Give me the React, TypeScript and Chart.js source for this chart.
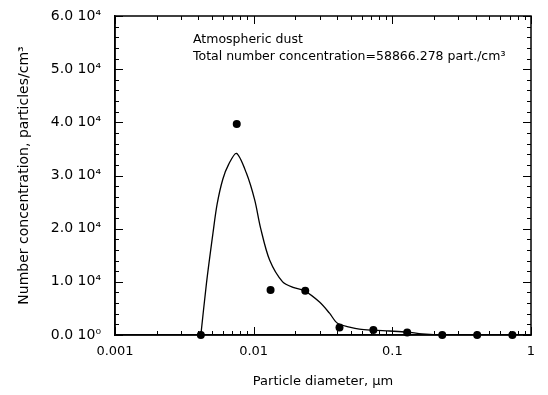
import React, { useEffect, useRef } from 'react';
import { Chart, registerables } from 'chart.js';

Chart.register(...registerables);

// Measured points (particle diameter, µm / number concentration, particles/cm³)
const pointDiameters = [0.00416, 0.00755, 0.01324, 0.02355, 0.0416, 0.073, 0.128, 0.229, 0.409, 0.734];
const pointConcentrations = [0, 39700, 8460, 8300, 1400, 940, 450, 0, 0, 0];

// Fitted distribution curve
const curveDiameters = [0.00416, 0.00457, 0.00509, 0.00545, 0.00599, 0.0066, 0.00752, 0.00886, 0.01017, 0.01122, 0.01303, 0.01618, 0.0195, 0.02328, 0.02985, 0.03524, 0.04022, 0.0491, 0.0579, 0.073, 0.0951, 0.128, 0.164, 0.237, 0.734];
const curveConcentrations = [0, 9800, 19200, 24600, 29300, 32100, 34150, 30450, 25400, 20100, 14100, 10000, 8900, 8300, 6200, 4100, 2200, 1500, 1100, 900, 750, 550, 200, 0, 0];

const xTickValues = [0.001, 0.01, 0.1, 1];
const xTickLabels = ['0.001', '0.01', '0.1', '1'];
const yTickValues = [0, 10000, 20000, 30000, 40000, 50000, 60000];
const yTickLabels = ['0.0 10⁰', '1.0 10⁴', '2.0 10⁴', '3.0 10⁴', '4.0 10⁴', '5.0 10⁴', '6.0 10⁴'];

const annotationLines = ['Atmospheric dust', 'Total number concentration=58866.278 part./cm³'];
const xTitle = 'Particle diameter, µm';
const yTitle = 'Number concentration, particles/cm³';

const FONT = "'DejaVu Sans', sans-serif";

const framePlugin = {
  id: 'frameTicks',
  afterDatasetsDraw(chart: any) {
    const { ctx, chartArea: a, scales } = chart;
    const xs = scales.x;
    const ys = scales.y;
    ctx.save();
    ctx.strokeStyle = '#000';
    ctx.lineWidth = 1;
    const xv: { v: number; major: boolean }[] = [];
    for (let d = -3; d <= -1; d++) {
      for (let m = 1; m <= 9; m++) xv.push({ v: m * Math.pow(10, d), major: m === 1 });
    }
    xv.push({ v: 1, major: true });
    ctx.beginPath();
    for (const t of xv) {
      const px = Math.round(xs.getPixelForValue(t.v)) + 0.5;
      const len = t.major ? 8 : 4;
      ctx.moveTo(px, a.bottom);
      ctx.lineTo(px, a.bottom - len);
      ctx.moveTo(px, a.top);
      ctx.lineTo(px, a.top + len);
    }
    for (let v = 0; v <= 60000; v += 2000) {
      const py = Math.round(ys.getPixelForValue(v)) + 0.5;
      const len = v % 10000 === 0 ? 8 : 4;
      ctx.moveTo(a.left, py);
      ctx.lineTo(a.left + len, py);
      ctx.moveTo(a.right, py);
      ctx.lineTo(a.right - len, py);
    }
    ctx.stroke();
    ctx.lineWidth = 1.5;
    ctx.strokeRect(a.left, a.top, a.right - a.left, a.bottom - a.top);
    ctx.fillStyle = '#000';
    ctx.font = `12.5px ${FONT}`;
    ctx.textBaseline = 'alphabetic';
    ctx.textAlign = 'left';
    ctx.fillText(annotationLines[0], a.left + 78, a.top + 27);
    ctx.fillText(annotationLines[1], a.left + 78, a.top + 44);
    ctx.restore();
  },
};

export default function App() {
  const ref = useRef<HTMLCanvasElement | null>(null);
  useEffect(() => {
    if (!ref.current) return;
    Chart.defaults.font.family = FONT;
    Chart.defaults.color = '#000';
    const chart = new Chart(ref.current, {
      type: 'scatter',
      data: {
        datasets: [
          {
            label: 'fit',
            data: curveDiameters.map((x, i) => ({ x, y: curveConcentrations[i] })),
            showLine: true,
            borderColor: '#000',
            borderWidth: 1.3,
            pointRadius: 0,
            tension: 0.3,
            fill: false,
          } as any,
          {
            label: 'measured',
            data: pointDiameters.map((x, i) => ({ x, y: pointConcentrations[i] })),
            showLine: false,
            backgroundColor: '#000',
            borderColor: '#000',
            pointRadius: 4,
            pointBorderWidth: 0,
            clip: false,
          } as any,
        ],
      },
      plugins: [framePlugin],
      options: {
        responsive: false,
        animation: false,
        events: [],
        layout: { padding: { left: 0, top: 16, right: 17, bottom: 0 } },
        plugins: { legend: { display: false }, tooltip: { enabled: false } },
        scales: {
          x: {
            type: 'logarithmic',
            min: 0.001,
            max: 1,
            afterFit: (s: any) => { s.height = 60; s.paddingLeft = 0; s.paddingRight = 0; },
            afterBuildTicks: (s: any) => { s.ticks = xTickValues.map((v) => ({ value: v })); },
            grid: { display: false, drawTicks: false },
            border: { display: true, color: '#000', width: 1.5 },
            ticks: {
              autoSkip: false,
              maxRotation: 0,
              padding: 9,
              font: { size: 13 },
              color: '#000',
              callback: (v: any) => {
                const i = xTickValues.findIndex((t) => Math.abs(t - v) / t < 1e-6);
                return i >= 0 ? xTickLabels[i] : '';
              },
            },
            title: { display: true, text: xTitle, font: { size: 13 }, color: '#000', padding: { top: 0, bottom: 6 } },
          },
          y: {
            type: 'linear',
            min: 0,
            max: 60000,
            afterFit: (s: any) => { s.width = 115; s.paddingTop = 0; s.paddingBottom = 0; },
            afterBuildTicks: (s: any) => { s.ticks = yTickValues.map((v) => ({ value: v })); },
            grid: { display: false, drawTicks: false },
            border: { display: true, color: '#000', width: 1.5 },
            ticks: {
              padding: 14,
              font: { size: 14 },
              color: '#000',
              callback: (v: any) => {
                const i = yTickValues.indexOf(Number(v));
                return i >= 0 ? yTickLabels[i] : '';
              },
            },
            title: { display: true, text: yTitle, font: { size: 14 }, color: '#000', padding: { top: 16, bottom: 0 } },
          },
        },
      } as any,
    });
    return () => chart.destroy();
  }, []);
  return (
    <div style={{ position: 'absolute', left: 0, top: 0, width: 548, height: 395, background: '#fff' }}>
      <canvas ref={ref} width={548} height={395} style={{ width: 548, height: 395 }} />
    </div>
  );
}
